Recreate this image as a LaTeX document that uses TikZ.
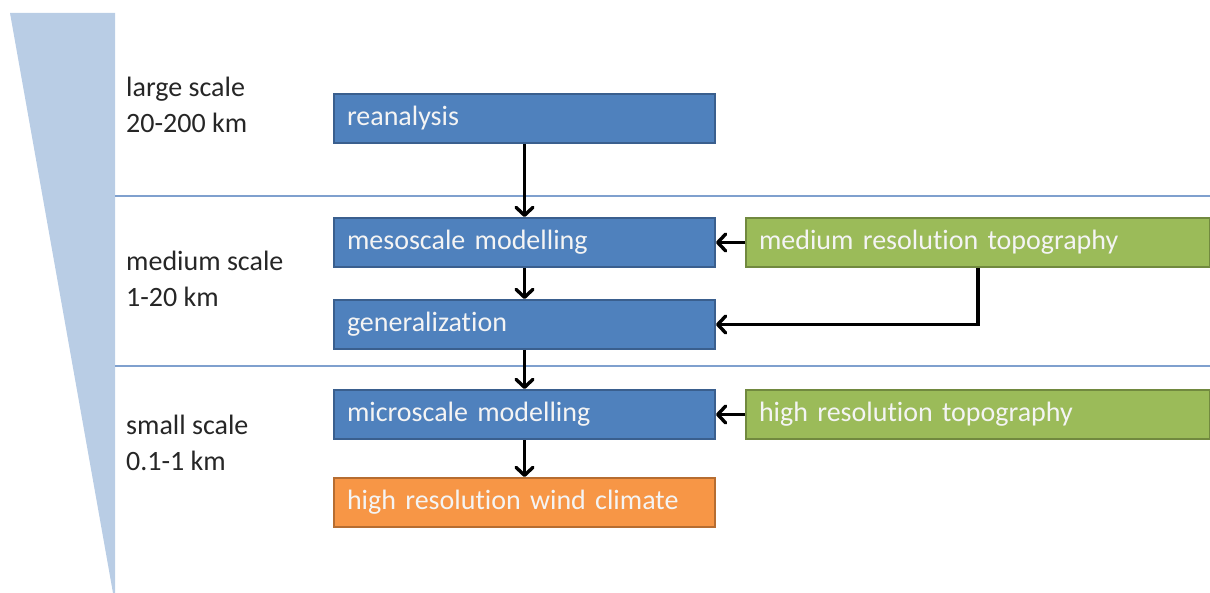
\documentclass[tikz,border=0pt]{standalone}
\usepackage{fontspec}
\setmainfont{Carlito}[Ligatures=NoCommon]
\usetikzlibrary{arrows.meta}

\definecolor{wedgeblue}{HTML}{B9CDE5}
\definecolor{ruleblue}{HTML}{7FA0CE}
\definecolor{boxblue}{HTML}{4F81BD}
\definecolor{boxblueline}{HTML}{3A5F8E}
\definecolor{boxgreen}{HTML}{9BBB59}
\definecolor{boxgreenline}{HTML}{71893F}
\definecolor{boxorange}{HTML}{F79646}
\definecolor{boxorangeline}{HTML}{B66D31}
\definecolor{labeltext}{HTML}{262626}
\definecolor{boxtext}{HTML}{F4F4F4}

\tikzset{
  flowbox/.style={draw, line width=2pt, anchor=north west, inner xsep=13pt, inner ysep=0pt,
    minimum height=49pt, align=left, text=boxtext,
    font=\fontsize{28}{32}\selectfont},
  bluebox/.style={flowbox, fill=boxblue, draw=boxblueline, text width=355pt},
  greenbox/.style={flowbox, fill=boxgreen, draw=boxgreenline, text width=438pt},
  orangebox/.style={flowbox, fill=boxorange, draw=boxorangeline, text width=355pt},
  scalelabel/.style={anchor=base west, inner sep=0pt, align=left, text=labeltext,
    font=\fontsize{28}{36}\selectfont},
  flowarrow/.style={-{Straight Barb[length=8pt,width=17pt,line width=3.4pt,round]},
    line width=3.4pt, black},
  scalerule/.style={draw=ruleblue, line width=1.3pt}
}

\begin{document}
\begin{tikzpicture}[x=1pt,y=-1pt]
  \useasboundingbox (0,0) rectangle (1210,593);

  % scale wedge, narrowing from large to small scales
  \fill[wedgeblue] (10,13) -- (115,13) -- (115,593) -- (113,593) -- cycle;

  % separators between the scale bands
  \coordinate (r1a) at (115,196);
  \coordinate (r1b) at (1210,196);
  \coordinate (r2a) at (115,366);
  \coordinate (r2b) at (1210,366);
  \draw[scalerule] (r1a) -- (r1b);
  \draw[scalerule] (r2a) -- (r2b);

  % scale labels (positioned by the baseline of their second line)
  \node[scalelabel] (large) at (126,133) {large scale\\20-200 km};
  \node[scalelabel] (medium) at (126,307) {medium scale\\1-20 km};
  \node[scalelabel] (small) at (126,470) {small scale\\0.1-1 km};

  % model chain
  \node[bluebox] (rea) at (333,93) {reanalysis};
  \node[bluebox] (meso) at (333,217) {mesoscale modelling};
  \node[bluebox] (gen) at (333,299) {generalization};
  \node[bluebox] (micro) at (333,389) {microscale modelling};
  \node[orangebox] (wind) at (333,477) {high resolution wind climate};

  % topography inputs
  \node[greenbox] (medtopo) at (745,217) {medium resolution topography};
  \node[greenbox] (hightopo) at (745,389) {high resolution topography};

  % connectors
  \draw[flowarrow] (rea.south) -- (meso.north);
  \draw[flowarrow] (meso.south) -- (gen.north);
  \draw[flowarrow] (gen.south) -- (micro.north);
  \draw[flowarrow] (micro.south) -- (wind.north);
  \draw[flowarrow] (medtopo.west) -- (meso.east);
  \draw[flowarrow] (hightopo.west) -- (micro.east);
  \draw[flowarrow] (medtopo.south) |- (gen.east);
\end{tikzpicture}
\end{document}
